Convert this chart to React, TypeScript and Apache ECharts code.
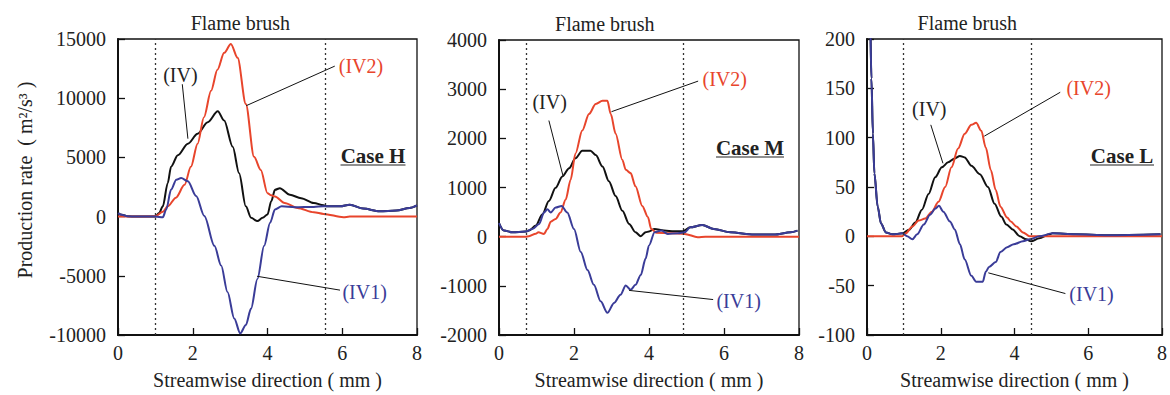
import React, { useEffect, useRef } from 'react';
import * as echarts from 'echarts';

// ---------- Case H ----------
const caseH_IV: number[][] = [[0,300],[0.1,150],[0.25,30],[0.5,0],[1.0,0],[1.1,300],[1.2,870],[1.33,2820],[1.42,4210],[1.6,5185],[1.87,6160],[2.13,7000],[2.4,7970],[2.67,8900],[2.84,8120],[3.07,5890],[3.24,3660],[3.42,870],[3.56,-100],[3.73,-380],[3.87,-100],[4.0,180],[4.1,1300],[4.2,2260],[4.33,2400],[4.6,1840],[4.9,1560],[5.24,1150],[5.5,950],[5.6,870],[5.95,870],[6.2,1010],[6.56,680],[7.0,450],[7.45,510],[7.8,730],[8.0,950]];
const caseH_IV1: number[][] = [[0,300],[0.1,150],[0.25,30],[0.5,0],[1.0,0],[1.2,-50],[1.29,600],[1.42,2280],[1.56,3120],[1.69,3260],[1.87,2980],[2.09,1730],[2.31,50],[2.58,-2470],[2.76,-4140],[2.93,-6370],[3.11,-8600],[3.27,-9860],[3.42,-9160],[3.56,-7770],[3.73,-5260],[3.91,-2470],[4.07,-520],[4.2,600],[4.38,870],[4.73,790],[5.24,820],[5.5,870],[5.95,870],[6.2,1010],[6.56,680],[7.0,450],[7.45,510],[7.8,730],[8.0,950]];
const caseH_IV2: number[][] = [[0,0],[0.5,0],[1.0,20],[1.2,400],[1.33,870],[1.55,1600],[1.78,2680],[1.95,4200],[2.13,6160],[2.3,8400],[2.49,10620],[2.66,12400],[2.84,13830],[3.02,14580],[3.2,13410],[3.42,9510],[3.64,5050],[3.82,3930],[4.0,1980],[4.1,1800],[4.2,1700],[4.46,1150],[4.8,730],[5.24,370],[5.5,230],[6.03,-50],[6.2,0],[8,0]];

// ---------- Case M ----------
const caseM_IV: number[][] = [[0,277],[0.13,124],[0.36,90],[0.71,104],[0.8,124],[0.98,225],[1.16,457],[1.33,725],[1.51,993],[1.69,1226],[1.87,1393],[2.04,1594],[2.22,1748],[2.44,1748],[2.58,1660],[2.76,1427],[2.93,1126],[3.11,826],[3.29,525],[3.47,258],[3.64,90],[3.78,10],[3.91,90],[4.0,104],[4.15,156],[4.4,124],[4.67,110],[4.9,110],[5.1,190],[5.42,237],[5.73,156],[6.17,90],[6.8,43],[7.33,43],[7.78,90],[7.96,124]];
const caseM_IV1: number[][] = [[0,277],[0.13,124],[0.36,90],[0.71,104],[0.89,156],[1.07,258],[1.2,491],[1.29,560],[1.38,491],[1.51,592],[1.67,626],[1.82,491],[2.0,156],[2.18,-311],[2.36,-679],[2.53,-980],[2.71,-1314],[2.89,-1548],[3.07,-1347],[3.24,-1180],[3.38,-993],[3.51,-1080],[3.64,-980],[3.78,-780],[3.91,-445],[4.0,-178],[4.15,90],[4.33,124],[4.5,56],[4.77,70],[4.95,90],[5.1,190],[5.42,237],[5.73,156],[6.17,90],[6.8,43],[7.33,43],[7.78,90],[7.96,124]];
const caseM_IV2: number[][] = [[0,0],[0.7,0],[0.8,10],[0.98,60],[1.05,90],[1.2,56],[1.29,156],[1.38,305],[1.51,360],[1.64,491],[1.78,758],[1.91,1160],[2.04,1694],[2.22,2160],[2.4,2496],[2.58,2697],[2.76,2764],[2.89,2764],[2.98,2496],[3.11,2095],[3.29,1560],[3.38,1360],[3.51,1293],[3.64,1025],[3.82,626],[3.97,400],[4.06,156],[4.2,80],[4.6,70],[4.95,56],[5.3,-10],[5.5,0],[8,0]];

// ---------- Case L ----------
const caseL_IV: number[][] = [[0,320],[0.08,230],[0.12,160],[0.16,104],[0.2,64],[0.29,30],[0.38,13],[0.51,4],[0.69,2],[0.96,3],[1.14,6.6],[1.31,14],[1.49,27],[1.67,43],[1.85,60],[2.03,70],[2.2,75],[2.38,79],[2.52,81.5],[2.65,80],[2.83,71.5],[3.06,63],[3.28,50],[3.46,33],[3.64,20],[3.78,12],[3.95,7],[4.14,0],[4.32,-3],[4.45,-5],[4.67,-2],[4.94,2],[5.03,3],[5.65,2],[6.53,1],[7.96,2]];
const caseL_IV1: number[][] = [[0,320],[0.08,230],[0.12,160],[0.16,104],[0.2,64],[0.29,30],[0.38,13],[0.51,4],[0.69,2],[0.96,3],[1.09,0],[1.23,-3],[1.36,2],[1.54,12],[1.71,22],[1.85,28],[1.95,31],[2.07,25],[2.25,15],[2.38,7],[2.52,-8],[2.65,-23.5],[2.83,-40],[2.96,-46],[3.14,-46],[3.22,-36],[3.31,-31],[3.49,-26],[3.62,-16],[3.8,-11],[3.98,-8],[4.23,-5],[4.41,-3],[4.67,0],[5.03,3],[5.65,2],[6.53,1],[7.96,2]];
const caseL_IV2: number[][] = [[0,0],[0.95,0],[1.05,3],[1.23,10],[1.4,16],[1.58,18],[1.76,25],[1.94,35],[2.12,50],[2.29,70],[2.47,89],[2.65,104],[2.83,113],[2.96,115],[3.1,107],[3.22,90],[3.36,67],[3.49,47],[3.62,30],[3.8,19],[3.9,15],[4.05,10],[4.23,4],[4.41,0],[8,0]];

// Flame brush bounds (mm)
const brushH = [1.0, 5.55];
const brushM = [0.73, 4.91];
const brushL = [0.98, 4.46];

// Y-axis ranges: [min, max, interval]
const yRangeH = [-10000, 15000, 5000];
const yRangeM = [-2000, 4000, 1000];
const yRangeL = [-100, 200, 50];

const caseNames = ['Case H', 'Case M', 'Case L'];
const seriesNames = ['(IV)', '(IV1)', '(IV2)'];

const FONT = 'Liberation Serif';
const RED = '#e8452c';
const BLUE = '#3a3c98';
const BLACK = '#111111';
const TXT = '#222222';

// annotation placement in data coordinates: text anchor, leader line start/end
const annotH = {
  IV: { t: [1.67, 12000], l: [[1.72, 11180], [1.87, 6580]] },
  IV2: { t: [6.5, 12680], l: [[5.8, 12710], [3.43, 9365]] },
  IV1: { t: [6.6, -6380], l: [[5.94, -6210], [3.72, -5040]] },
};
const annotM = {
  IV: { t: [1.35, 2747], l: [[1.33, 2362], [1.71, 1227]] },
  IV2: { t: [6.02, 3198], l: [[5.31, 3164], [3.0, 2542]] },
  IV1: { t: [6.39, -1313], l: [[5.71, -1279], [3.47, -1093]] },
};
const annotL = {
  IV: { t: [1.69, 129], l: [[1.73, 113], [2.06, 74]] },
  IV2: { t: [6.01, 150], l: [[5.24, 146], [3.18, 101.5]] },
  IV1: { t: [6.09, -58], l: [[5.38, -58], [3.29, -37]] },
};

const panels = [
  { grid: { left: 118, top: 39, width: 299, height: 299 }, y: yRangeH, iv: caseH_IV, iv1: caseH_IV1, iv2: caseH_IV2, brush: brushH, annot: annotH },
  { grid: { left: 499, top: 40, width: 300, height: 299 }, y: yRangeM, iv: caseM_IV, iv1: caseM_IV1, iv2: caseM_IV2, brush: brushM, annot: annotM },
  { grid: { left: 867, top: 39, width: 300, height: 299 }, y: yRangeL, iv: caseL_IV, iv1: caseL_IV1, iv2: caseL_IV2, brush: brushL, annot: annotL },
];

const casePos = [
  { x: 373, y: 156, w: 65 },
  { x: 750, y: 148, w: 68 },
  { x: 1122, y: 156, w: 64 },
];

function buildOption() {
  const grids: any[] = [];
  const xAxes: any[] = [];
  const yAxes: any[] = [];
  const series: any[] = [];
  panels.forEach((p, i) => {
    grids.push({ ...p.grid, show: true, borderColor: BLACK, borderWidth: 1.3, backgroundColor: 'transparent' });
    xAxes.push({
      type: 'value', gridIndex: i, min: 0, max: 8, interval: 2,
      name: 'Streamwise direction ( mm )', nameLocation: 'middle', nameGap: 35,
      nameTextStyle: { fontFamily: FONT, fontSize: 20, color: TXT },
      axisLine: { show: true, onZero: false, lineStyle: { color: BLACK, width: 2 } },
      axisTick: { show: true, inside: true, length: 7, lineStyle: { color: BLACK, width: 1.3 } },
      axisLabel: { fontFamily: FONT, fontSize: 20, color: TXT, margin: 8 },
      splitLine: { show: false },
    });
    yAxes.push({
      type: 'value', gridIndex: i, min: p.y[0], max: p.y[1], interval: p.y[2],
      axisLine: { show: true, onZero: false, lineStyle: { color: BLACK, width: 2 } },
      axisTick: { show: true, inside: true, length: 7, lineStyle: { color: BLACK, width: 1.3 } },
      axisLabel: { fontFamily: FONT, fontSize: 20, color: TXT, margin: 12, formatter: (v: number) => String(v) },
      splitLine: { show: false },
    });
    const mk = (name: string, data: number[][], color: string, z: number) => ({
      name, type: 'line', xAxisIndex: i, yAxisIndex: i, data, showSymbol: false, symbol: 'none',
      smooth: 0.3, smoothMonotone: 'x', clip: true, z,
      lineStyle: { color, width: 2 }, itemStyle: { color },
    });
    series.push(mk(seriesNames[0], p.iv, BLACK, 2));
    series.push(mk(seriesNames[2], p.iv2, RED, 3));
    series.push(mk(seriesNames[1], p.iv1, BLUE, 4));
    const a: any = p.annot;
    const labelColors: any = { IV: TXT, IV1: BLUE, IV2: RED };
    const leaderData = ['IV', 'IV2', 'IV1'].map((k) => [
      { coord: a[k].l[0], lineStyle: { type: 'solid', color: BLACK, width: 1 } },
      { coord: a[k].l[1] },
    ]);
    series.push({
      name: 'annot' + i, type: 'line', xAxisIndex: i, yAxisIndex: i, data: [], z: 6, silent: true,
      markLine: {
        silent: true, symbol: ['none', 'none'], animation: false,
        label: { show: false },
        lineStyle: { color: '#333', width: 1.3, type: [2, 3] },
        data: [
          { xAxis: p.brush[0] },
          { xAxis: p.brush[1] },
          ...leaderData,
        ],
      },
      markArea: {
        silent: true, animation: false,
        itemStyle: { color: 'rgba(0,0,0,0)' },
        label: { show: true, position: 'top', distance: 6, formatter: 'Flame brush', fontFamily: FONT, fontSize: 20, color: TXT },
        data: [[{ xAxis: p.brush[0] }, { xAxis: p.brush[1] }]],
      },
      markPoint: {
        silent: true, animation: false, symbol: 'circle', symbolSize: 1,
        itemStyle: { color: 'rgba(0,0,0,0)' },
        data: ['IV', 'IV2', 'IV1'].map((k) => ({
          coord: a[k].t,
          label: { show: true, position: 'inside', formatter: '(' + k + ')', fontFamily: FONT, fontSize: 20, color: labelColors[k] },
        })),
      },
    });
  });

  const graphic: any[] = [
    {
      type: 'text', x: 25, y: 180, rotation: Math.PI / 2,
      style: { text: 'Production rate  ( m²/s³ )', fontFamily: FONT, fontSize: 20, fill: TXT, textAlign: 'center', textVerticalAlign: 'middle' },
    },
  ];
  casePos.forEach((c, i) => {
    graphic.push({
      type: 'text', x: c.x, y: c.y,
      style: { text: caseNames[i], fontFamily: FONT, fontSize: 21, fontWeight: 'bold', fill: TXT, textAlign: 'center', textVerticalAlign: 'middle' },
    });
    graphic.push({
      type: 'line', shape: { x1: c.x - c.w / 2, y1: c.y + 9, x2: c.x + c.w / 2, y2: c.y + 9 },
      style: { stroke: TXT, lineWidth: 1.2 },
    });
  });

  return {
    animation: false,
    backgroundColor: '#ffffff',
    grid: grids,
    xAxis: xAxes,
    yAxis: yAxes,
    series,
    graphic,
  };
}

export default function App() {
  const ref = useRef<HTMLDivElement>(null);
  useEffect(() => {
    if (!ref.current) return;
    const chart = echarts.init(ref.current, undefined, { renderer: 'svg' });
    chart.setOption(buildOption() as any);
    return () => chart.dispose();
  }, []);
  return (
    <div
      ref={ref}
      style={{ position: 'fixed', left: 0, top: 0, width: 1170, height: 395, background: '#fff' }}
    />
  );
}
